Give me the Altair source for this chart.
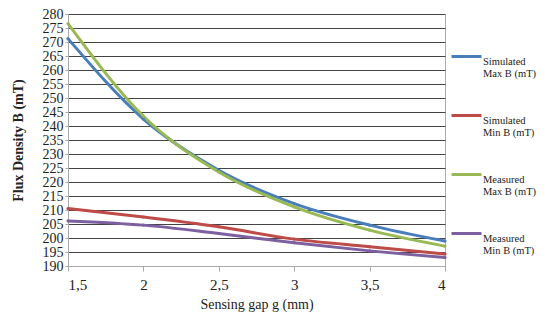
import altair as alt
import pandas as pd

gap = [1.5, 2.0, 2.5, 3.0, 3.5, 4.0]
sim_max = [271.2, 242.5, 224.2, 212.3, 204.6, 198.9]
sim_min = [210.5, 207.5, 204.0, 199.6, 196.9, 194.3]
meas_max = [276.6, 243.5, 223.6, 211.1, 202.8, 197.1]
meas_min = [206.1, 204.6, 201.6, 198.3, 195.4, 193.0]

series_names = ["Simulated|Max B (mT)", "Simulated|Min B (mT)",
                "Measured|Max B (mT)", "Measured|Min B (mT)"]
colors = ["#4A7EBB", "#BE4B48", "#98B954", "#7D60A0"]

rows = []
for name, vals in zip(series_names, [sim_max, sim_min, meas_max, meas_min]):
    for g, v in zip(gap, vals):
        rows.append({"gap": g, "B": v, "series": name})
df = pd.DataFrame(rows)

FONT = "Liberation Serif"

x = alt.X("gap:Q",
          scale=alt.Scale(domain=[1.5, 4], nice=False, zero=False),
          axis=alt.Axis(values=[1.5, 2, 2.5, 3, 3.5, 4],
                        labelExpr="replace(format(datum.value, '.1~f'), '.', ',')",
                        title="Sensing gap g (mm)", grid=False,
                        tickSize=5, tickColor="#aaaaaa", domainColor="#aaaaaa",
                        labelPadding=6, titlePadding=5,
                        labelFontSize=15, titleFontSize=14,
                        titleFontWeight="normal"))
y = alt.Y("B:Q",
          scale=alt.Scale(domain=[190, 280], nice=False, zero=False),
          axis=alt.Axis(values=list(range(190, 281, 5)), format="d",
                        title="Flux Density B (mT)", grid=True,
                        gridColor="#444444", gridWidth=1,
                        tickSize=3, tickColor="#aaaaaa", domainColor="#aaaaaa",
                        labelOverlap=False, labelPadding=2, titlePadding=17,
                        labelFontSize=14, titleFontSize=14,
                        titleFontWeight="bold"))
color = alt.Color("series:N",
                  scale=alt.Scale(domain=series_names, range=colors),
                  legend=alt.Legend(title=None, orient="none",
                                    legendX=382, legendY=26,
                                    symbolType="stroke", symbolSize=900,
                                    symbolStrokeWidth=3,
                                    labelExpr="split(datum.label, '|')",
                                    labelFont=FONT, labelFontSize=10.5,
                                    labelColor="#222222",
                                    labelBaseline="top", labelOffset=0,
                                    labelLimit=200,
                                    rowPadding=19))

base = alt.Chart(df).encode(x=x, y=y, color=color)
lines = base.mark_line(interpolate="monotone", strokeWidth=3).encode(order="gap:Q")
pts = base.mark_point(filled=True, size=10, opacity=1)

chart = alt.layer(lines, pts).properties(
    width=377, height=252,
    background="white",
    autosize=alt.AutoSizeParams(type="none"),
    padding={"left": 60, "top": 6, "right": 96, "bottom": 48},
).configure(font=FONT).configure_view(stroke="#aaaaaa").configure_axis(
    labelFont=FONT, titleFont=FONT, labelColor="#222222", titleColor="#222222"
).configure_legend(labelFont=FONT, labelFontSize=10.5, labelColor="#222222")

chart.save("out.html", embed_options={"renderer": "svg", "actions": False})
